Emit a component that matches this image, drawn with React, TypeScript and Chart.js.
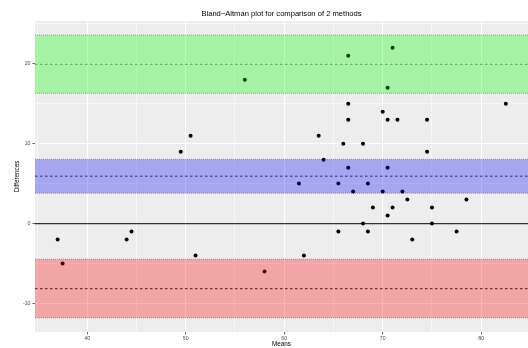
import React, { useEffect, useRef } from 'react';
import { Chart, registerables } from 'chart.js';

Chart.register(...registerables);

// ---- data ----
const means = [37, 37.5, 44, 44.5, 51, 58, 62, 65.5, 68, 68.5, 73, 75, 77.5, 49.5, 50.5, 63.5, 64, 66, 68, 66.5, 70.5, 71.5, 74.5, 70, 74.5, 66.5, 70.5, 61.5, 65.5, 68.5, 67, 70, 72, 72.5, 78.5, 69, 71, 75, 70.5, 66.5, 71, 70.5, 66.5, 82.5, 56];
const differences = [-2, -5, -2, -1, -4, -6, -4, -1, 0, -1, -2, 0, -1, 9, 11, 11, 8, 10, 10, 13, 13, 13, 13, 14, 9, 7, 7, 5, 5, 5, 4, 4, 4, 3, 3, 2, 2, 2, 1, 21, 22, 17, 15, 15, 18];

const bandNames = ['Upper limit of agreement', 'Mean difference', 'Lower limit of agreement'];
const bandCenters = [19.94, 5.93, -8.15];
const bandCILow = [16.3, 3.8, -11.8];
const bandCIHigh = [23.58, 8.04, -4.46];

const xMajorTicks = [40, 50, 60, 70, 80];
const xMinorTicks = [35, 45, 55, 65, 75];
const yMajorTicks = [-10, 0, 10, 20];
const yMinorTicks = [-5, 5, 15, 25];
const xLimits = [34.7, 84.75];
const yLimits = [-13.57, 25.35];

const titleText = 'Bland\u2212Altman plot for comparison of 2 methods';
const xTitle = 'Means';
const yTitle = 'Differences';

// ---- styles ----
const FONT = '"Liberation Sans", Arial, sans-serif';
const bandFills = ['rgba(0,255,0,0.3)', 'rgba(0,0,255,0.3)', 'rgba(255,0,0,0.3)'];
const bandLineColors = ['#5a915a', '#2c2c78', '#4a1818'];

const ggPlugin = {
  id: 'ggStyle',
  beforeDraw(chart: any) {
    const { ctx, chartArea: a } = chart;
    ctx.save();
    ctx.fillStyle = '#ffffff';
    ctx.fillRect(0, 0, chart.width, chart.height);
    ctx.fillStyle = '#EDEDED';
    ctx.fillRect(a.left, a.top, a.right - a.left, a.bottom - a.top);
    ctx.restore();
  },
  beforeDatasetsDraw(chart: any) {
    const { ctx, chartArea: a, scales } = chart;
    const y0 = scales.y.getPixelForValue(0);
    ctx.save();
    ctx.strokeStyle = '#333333';
    ctx.lineWidth = 1.2;
    ctx.beginPath();
    ctx.moveTo(a.left, y0);
    ctx.lineTo(a.right, y0);
    ctx.stroke();
    ctx.restore();
  },
  afterDatasetsDraw(chart: any) {
    const { ctx, chartArea: a, scales } = chart;
    const ys = scales.y;
    ctx.save();
    ctx.beginPath();
    ctx.rect(a.left, a.top, a.right - a.left, a.bottom - a.top);
    ctx.clip();
    bandNames.forEach((_, i) => {
      const top = ys.getPixelForValue(bandCIHigh[i]);
      const bot = ys.getPixelForValue(bandCILow[i]);
      ctx.fillStyle = bandFills[i];
      ctx.fillRect(a.left, top, a.right - a.left, bot - top);
      // dotted edges
      ctx.strokeStyle = 'rgba(60,60,60,0.55)';
      ctx.lineWidth = 0.8;
      ctx.setLineDash([1, 1]);
      ctx.beginPath();
      ctx.moveTo(a.left, top);
      ctx.lineTo(a.right, top);
      ctx.moveTo(a.left, bot);
      ctx.lineTo(a.right, bot);
      ctx.stroke();
      // dashed centre line
      const c = ys.getPixelForValue(bandCenters[i]);
      ctx.strokeStyle = bandLineColors[i];
      ctx.lineWidth = 1;
      ctx.setLineDash([2.5, 2.5]);
      ctx.beginPath();
      ctx.moveTo(a.left, c);
      ctx.lineTo(a.right, c);
      ctx.stroke();
    });
    ctx.restore();
  },
  afterDraw(chart: any) {
    const { ctx, chartArea: a } = chart;
    const cx = (a.left + a.right) / 2;
    ctx.save();
    ctx.fillStyle = '#000';
    ctx.textAlign = 'center';
    ctx.textBaseline = 'alphabetic';
    ctx.font = `7.6px ${FONT}`;
    ctx.fillText(titleText, cx, 15.5);
    ctx.font = `6.3px ${FONT}`;
    ctx.fillText(xTitle, cx, 346.3);
    ctx.translate(17.5, (a.top + a.bottom) / 2);
    ctx.rotate(-Math.PI / 2);
    ctx.textBaseline = 'middle';
    ctx.fillText(yTitle, 0, 0);
    ctx.restore();
  },
};

function makeAxis(min: number, max: number, major: number[], minor: number[], isX: boolean) {
  return {
    type: 'linear',
    min,
    max,
    border: { display: false },
    afterBuildTicks(scale: any) {
      scale.ticks = [...major, ...minor].sort((p, q) => p - q).map((v) => ({ value: v }));
    },
    afterFit(scale: any) {
      if (isX) scale.height = 16;
      else scale.width = 35;
      scale.paddingLeft = 0;
      scale.paddingRight = 0;
      scale.paddingTop = 0;
      scale.paddingBottom = 0;
    },
    grid: {
      color: '#ffffff',
      lineWidth: (c: any) => (c.tick && major.includes(c.tick.value) ? 1.1 : 0.55),
      tickColor: (c: any) => (c.tick && major.includes(c.tick.value) ? '#333333' : 'rgba(0,0,0,0)'),
      tickLength: 2.5,
      tickWidth: 0.8,
    },
    ticks: {
      autoSkip: false,
      maxRotation: 0,
      minRotation: 0,
      padding: isX ? 1 : 2,
      color: '#4D4D4D',
      font: { family: FONT, size: 5.2 },
      callback: (v: any) => (major.includes(Number(v)) ? String(v) : ''),
    },
  };
}

export default function App() {
  const ref = useRef<HTMLCanvasElement | null>(null);
  useEffect(() => {
    if (!ref.current) return;
    const chart = new Chart(ref.current, {
      type: 'scatter',
      data: {
        datasets: [
          {
            label: 'Differences',
            data: means.map((m, i) => ({ x: m, y: differences[i] })),
            backgroundColor: '#000000',
            borderWidth: 0,
            pointRadius: 2,
          },
        ],
      },
      options: {
        animation: false,
        responsive: true,
        maintainAspectRatio: false,
        layout: { autoPadding: false, padding: { top: 21, left: 0, right: 0, bottom: 0 } },
        plugins: {
          legend: { display: false },
          title: { display: false },
          tooltip: { enabled: false },
        },
        scales: {
          x: makeAxis(xLimits[0], xLimits[1], xMajorTicks, xMinorTicks, true) as any,
          y: makeAxis(yLimits[0], yLimits[1], yMajorTicks, yMinorTicks, false) as any,
        },
      },
      plugins: [ggPlugin],
    });
    return () => chart.destroy();
  }, []);
  return (
    <div style={{ position: 'fixed', left: 0, top: 0, width: 528, height: 348 }}>
      <canvas ref={ref} />
    </div>
  );
}
